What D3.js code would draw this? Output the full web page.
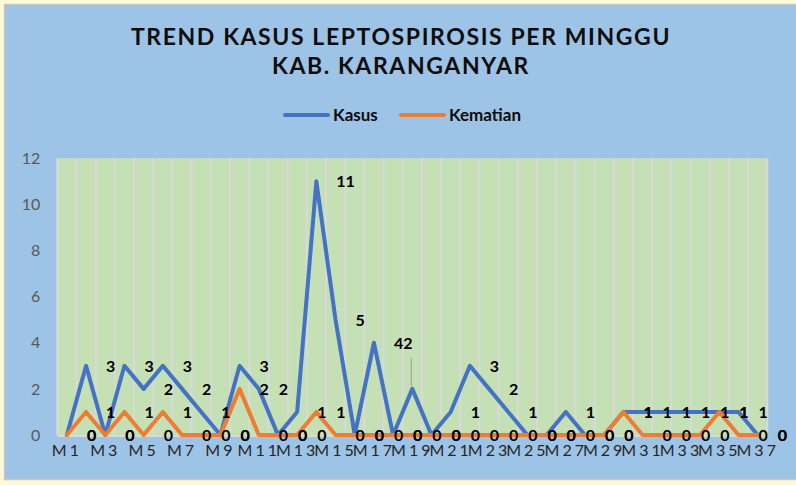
<!DOCTYPE html>
<html>
<head>
<meta charset="utf-8">
<script src="https://cdn.jsdelivr.net/npm/d3@7"></script>
<style>
  body { margin: 0; background: #fff9d8; }
  svg { display: block; }
</style>
</head>
<body>
<div class="chart"></div>
<script>
// data, week by week
var weeks = ["M1","M2","M3","M4","M5","M6","M7","M8","M9","M10","M11","M12","M13","M14","M15","M16","M17","M18","M19",
  "M20","M21","M22","M23","M24","M25","M26","M27","M28","M29","M30","M31","M32","M33","M34","M35","M36","M37"];
var kasus = [0,3,0,3,2,3,2,1,0,3,2,0,1,11,5,0,4,0,2,0,1,3,2,1,0,0,1,0,0,1,1,1,1,1,1,1,0];
var kematian = [0,1,0,1,0,1,0,0,0,2,0,0,0,1,0,0,0,0,0,0,0,0,0,0,0,0,0,0,0,1,0,0,0,0,1,0,0];
var yTicks = [0,2,4,6,8,10,12];
var seriesNames = ["Kasus", "Kematian"];

var W = 796, H = 485;
var color = ["#4472c4", "#ed7d31"];
var font = "Lato, 'Open Sans', sans-serif";

var svg = d3.select(".chart").append("svg")
  .attr("width", W)
  .attr("height", H);

svg.append("rect")
  .attr("width", W).attr("height", H)
  .attr("fill", "#fff9d8");

// chart area
svg.append("rect")
  .attr("x", 4.5).attr("y", 4.5)
  .attr("width", W).attr("height", 475)
  .attr("fill", "#9dc3e6")
  .attr("stroke", "#c8c8c8")
  .attr("stroke-width", 1.5);

var x = d3.scaleBand().domain(weeks).range([57.3, 767.3]);
var y = d3.scaleLinear().domain([0, 12]).range([435, 158.3]);
var cx = (i) => x(weeks[i]) + x.bandwidth() / 2;

// plot area
svg.append("rect")
  .attr("x", x.range()[0]).attr("y", y(12))
  .attr("width", x.range()[1] - x.range()[0])
  .attr("height", y(0) - y(12))
  .attr("fill", "#c5e0b4");

// vertical gridlines between weeks
var bounds = weeks.map((w) => x(w)).concat([x.range()[1]]);
svg.append("g").selectAll("line")
  .data(bounds)
  .enter()
  .append("line")
  .attr("x1", (d) => d).attr("x2", (d) => d)
  .attr("y1", y(12)).attr("y2", y(0))
  .style("stroke", "#d9d9d9")
  .style("stroke-width", 2);

svg.append("line")
  .attr("x1", x.range()[0]).attr("x2", x.range()[1])
  .attr("y1", y(0) + 1).attr("y2", y(0) + 1)
  .style("stroke", "#d9d9d9")
  .style("stroke-width", 2);

// axes
var yAxis = svg.append("g")
  .attr("transform", "translate(" + x.range()[0] + ",0)")
  .call(d3.axisLeft(y).tickValues(yTicks).tickSize(0).tickPadding(17));
yAxis.select(".domain").remove();
yAxis.selectAll("text")
  .attr("font-family", font)
  .attr("font-size", "16px")
  .attr("fill", "#595959");

var xAxis = svg.append("g")
  .attr("transform", "translate(0," + y(0) + ")")
  .call(d3.axisBottom(x).tickValues(weeks.filter((w, i) => i % 2 == 0)).tickSize(0).tickPadding(10));
xAxis.select(".domain").remove();
xAxis.selectAll("text")
  .attr("font-family", font)
  .attr("font-size", "16px")
  .attr("fill", "#262626")
  .style("letter-spacing", "3px");

// lines
var line = d3.line()
  .x((d, i) => cx(i))
  .y((d) => y(d));

[kasus, kematian].forEach((vals, k) => {
  svg.append("path")
    .attr("d", line(vals))
    .style("fill", "none")
    .style("stroke", color[k])
    .style("stroke-width", 4)
    .style("stroke-linejoin", "round")
    .style("stroke-linecap", "round");
});

// data labels sit to the right of each point,
// except kasus M19 which was dragged up beside the M17 label (with a leader line)
var movedIdx = 18;
var labelX = (d, i, s) => (s == 1 && i == movedIdx) ? cx(i) - 9 : cx(i) + 20;
var labelY = (d, i, s) => (s == 1 && i == movedIdx) ? y(kasus[16]) + 6 : y(d) + 6;

[kematian, kasus].forEach((vals, s) => {
  svg.append("g").selectAll("text")
    .data(vals)
    .enter()
    .append("text")
    .attr("x", (d, i) => labelX(d, i, s))
    .attr("y", (d, i) => labelY(d, i, s))
    .text((d) => d)
    .attr("font-family", font)
    .attr("font-weight", "bold")
    .attr("font-size", "16px")
    .attr("fill", "#000");
});

svg.append("line")
  .attr("x1", cx(movedIdx) - 1).attr("x2", cx(movedIdx) - 1)
  .attr("y1", y(kasus[16]) + 15).attr("y2", y(kasus[movedIdx]) - 3)
  .style("stroke", "#a6a6a6")
  .style("stroke-width", 1.2);

// title
var title = svg.append("text")
  .attr("text-anchor", "middle")
  .attr("font-family", font)
  .attr("font-weight", "bold")
  .attr("font-size", "23px")
  .attr("fill", "#0d0d0d")
  .style("letter-spacing", "1.6px");
title.append("tspan").attr("x", 401).attr("y", 45).text("TREND KASUS LEPTOSPIROSIS PER MINGGU");
title.append("tspan").attr("x", 401).attr("y", 74).text("KAB. KARANGANYAR");

// legend
var legendX = [285, 401];
seriesNames.forEach((name, k) => {
  svg.append("line")
    .attr("x1", legendX[k]).attr("x2", legendX[k] + 43)
    .attr("y1", 115).attr("y2", 115)
    .style("stroke", color[k])
    .style("stroke-width", 4)
    .style("stroke-linecap", "round");
  svg.append("text")
    .attr("x", legendX[k] + 48)
    .attr("y", 121)
    .text(name)
    .attr("font-family", font)
    .attr("font-weight", "bold")
    .attr("font-size", "17px")
    .attr("fill", "#0d0d0d");
});
</script>
</body>
</html>
